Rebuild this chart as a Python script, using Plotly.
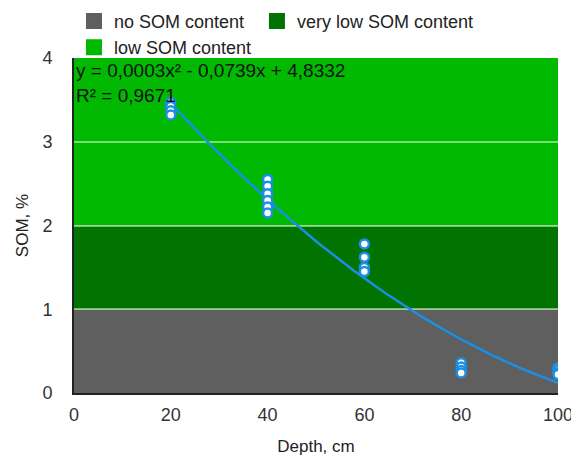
import numpy as np
import plotly.graph_objects as go

# Data
depth = [20, 20, 20, 20,
         40, 40, 40, 40, 40, 40,
         60, 60, 60, 60,
         80, 80, 80, 80,
         100, 100, 100, 100]
som = [3.47, 3.42, 3.37, 3.32,
       2.55, 2.47, 2.38, 2.30, 2.22, 2.15,
       1.78, 1.62, 1.50, 1.45,
       0.36, 0.31, 0.27, 0.24,
       0.30, 0.27, 0.24, 0.22]

band_names = ["no SOM content", "very low SOM content", "low SOM content"]
band_legends = ["legend", "legend2", "legend"]
band_low = [0, 1, 2]
band_high = [1, 2, 4]
band_colors = ["#5f5f5f", "#007300", "#00b900"]

equation_text = "y = 0,0003x² - 0,0739x + 4,8332"
r2_text = "R² = 0,9671"

x_ticks = [0, 20, 40, 60, 80, 100]
y_ticks = [0, 1, 2, 3, 4]

# Polynomial trendline fitted from the data
coef = np.polyfit(depth, som, 2)
xs = np.linspace(min(depth), max(depth), 100)
ys = np.polyval(coef, xs)

FONT = "Liberation Sans, Arial, sans-serif"

fig = go.Figure()

# Legend entries for bands
for name, col, lg in zip(band_names, band_colors, band_legends):
    fig.add_trace(go.Scatter(
        x=[None], y=[None], mode="markers", name=name, legend=lg,
        marker=dict(symbol="square", size=16, color=col),
        showlegend=True,
    ))

# Background bands
for lo, hi, col in zip(band_low, band_high, band_colors):
    fig.add_shape(type="rect", xref="x", yref="y", x0=0, x1=100, y0=lo, y1=hi,
                  fillcolor=col, line=dict(width=0), layer="below")

fig.add_trace(go.Scatter(
    x=xs, y=ys, mode="lines", line=dict(color="#1a8fe3", width=2.5),
    showlegend=False, hoverinfo="skip",
))

fig.add_trace(go.Scatter(
    x=depth, y=som, mode="markers",
    marker=dict(size=9, color="white", line=dict(color="#1a8fe3", width=2.5)),
    showlegend=False,
))

fig.add_annotation(x=0, y=1, xref="paper", yref="paper", xanchor="left", yanchor="top",
                   xshift=0, yshift=0,
                   text=equation_text + "<br>" + r2_text, showarrow=False, align="left",
                   font=dict(size=19, color="#111111", family=FONT))

legend_common = dict(orientation="v", xref="paper", yref="paper", xanchor="left",
                     yanchor="top", font=dict(size=18, color="#222222"),
                     bgcolor="rgba(0,0,0,0)", itemwidth=30, tracegroupgap=0)

# The page body has an 8px margin, so the figure is sized and offset accordingly
fig.update_layout(
    width=571, height=454,
    margin=dict(l=66, r=21, t=50, b=69, autoexpand=False),
    paper_bgcolor="white", plot_bgcolor="white",
    font=dict(family=FONT, size=17, color="#222222"),
    legend=dict(x=0.0, y=1.165, **legend_common),
    legend2=dict(x=0.378, y=1.165, **legend_common),
    xaxis=dict(range=[0, 100], tickvals=x_ticks, showgrid=False, zeroline=False,
               showline=True, linecolor="#222222", linewidth=2, automargin=False,
               title=dict(text="Depth, cm", font=dict(size=17), standoff=17),
               ticks="outside", ticklen=4, tickcolor="rgba(0,0,0,0)",
               tickfont=dict(size=18, color="#333333")),
    yaxis=dict(range=[0, 4], tickvals=y_ticks, showgrid=True,
               gridcolor="rgba(215,255,215,0.55)", gridwidth=2, zeroline=False,
               showline=True, linecolor="#222222", linewidth=2, automargin=False,
               title=dict(text="SOM, %", font=dict(size=17), standoff=9),
               ticks="outside", ticklen=16, tickcolor="rgba(0,0,0,0)",
               tickfont=dict(size=18, color="#333333")),
)

fig.write_html("out.html")
